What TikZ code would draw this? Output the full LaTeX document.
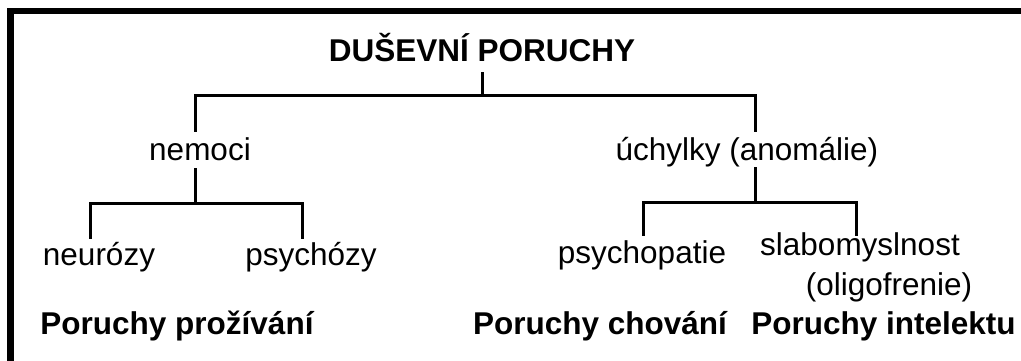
\documentclass[tikz,border=0pt]{standalone}
\usepackage{fontspec}
\setmainfont{Liberation Sans}
\begin{document}
\begin{tikzpicture}[x=1pt,y=-1pt,
  lbl/.style={font=\fontsize{31.5}{36}\selectfont, inner sep=0pt, anchor=base},
  hdr/.style={font=\bfseries\fontsize{31.5}{36}\selectfont, inner sep=0pt, anchor=base},
  conn/.style={line width=3pt, line join=miter},
  frame/.style={line width=6.5pt, line join=miter}]
\useasboundingbox (0,0) rectangle (1021,361);
% frame
\draw[frame] (10.5,370) -- (10.5,11) -- (1030,11);
% nodes
\node[hdr, text depth=10pt] (T) at (482,62) {DUŠEVNÍ PORUCHY};
\node[lbl, text height=28pt, text depth=8pt] (N) at (200,160) {nemoci};
\node[lbl, text height=28pt, text depth=7pt] (U) at (747,160) {úchylky (anomálie)};
\node[lbl, text height=26pt] (A) at (99,265) {neurózy};
\node[lbl, text height=26pt] (B) at (311,265) {psychózy};
\node[lbl, text height=27pt] (C) at (642,263) {psychopatie};
\node[lbl, text height=19pt] (D) at (860,255) {slabomyslnost};
\node[lbl] (E) at (889,295) {(oligofrenie)};
\node[hdr] (F) at (177,334) {Poruchy prožívání};
\node[hdr] (G) at (600,334) {Poruchy chování};
\node[hdr] (H) at (883.5,334) {Poruchy intelektu};
% junctions
\coordinate (J0) at (482,96);
\coordinate (J1) at (195,203);
\coordinate (J2) at (755,202);
% connectors
\draw[conn] (T.south) -- (J0);
\draw[conn] ([xshift=-5pt]N.north) |- (J0) -| ([xshift=8pt]U.north);
\draw[conn] ([xshift=-5pt]N.south) -- (J1);
\draw[conn] ([xshift=-9pt]A.north) |- (J1) -| ([xshift=-9pt]B.north);
\draw[conn] ([xshift=8pt]U.south) -- (J2);
\draw[conn] ([xshift=1pt]C.north) |- (J2) -| ([xshift=-4pt]D.north);
\end{tikzpicture}
\end{document}
